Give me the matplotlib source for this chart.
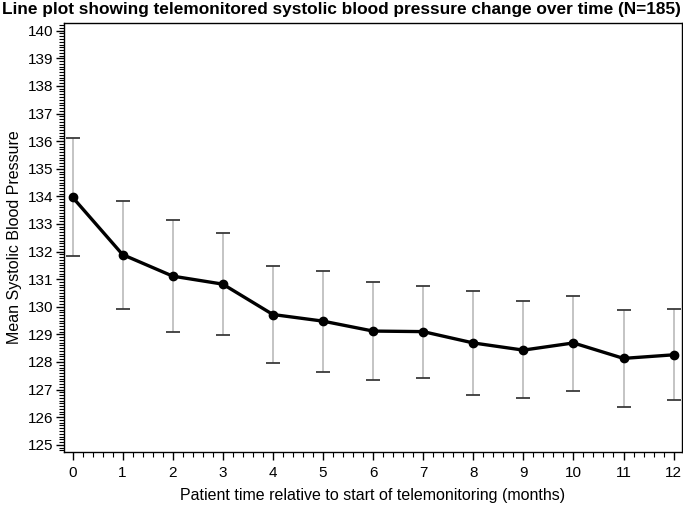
import matplotlib.pyplot as plt
from matplotlib.ticker import MultipleLocator

plt.rcParams['font.family'] = ['Liberation Sans', 'DejaVu Sans']

months = [0, 1, 2, 3, 4, 5, 6, 7, 8, 9, 10, 11, 12]
mean_sbp = [133.97, 131.89, 131.11, 130.82, 129.72, 129.48, 129.12, 129.10, 128.69, 128.43, 128.69, 128.13, 128.26]
upper = [136.10, 133.83, 133.13, 132.68, 131.47, 131.29, 130.88, 130.77, 130.57, 130.21, 130.40, 129.89, 129.92]
lower = [131.83, 129.93, 129.07, 128.97, 127.98, 127.63, 127.36, 127.41, 126.82, 126.69, 126.96, 126.36, 126.63]

err_lo = [m - l for m, l in zip(mean_sbp, lower)]
err_hi = [u - m for m, u in zip(mean_sbp, upper)]

fig = plt.figure(figsize=(6.83, 5.05), dpi=100)
ax = fig.add_axes([0.0937, 0.105, 0.905, 0.85])

eb = ax.errorbar(months, mean_sbp, yerr=[err_lo, err_hi], fmt='none',
                 ecolor='#b4b4b4', elinewidth=1.1, capsize=5, capthick=1.3)
for cap in eb[1]:
    cap.set_markeredgecolor('#3a3a3a')
ax.plot(months, mean_sbp, color='black', lw=2.4, marker='o', ms=6, zorder=3)

ax.set_xlim(-0.17, 12.17)
ax.set_ylim(124.74, 140.29)
ax.xaxis.set_major_locator(MultipleLocator(1))
ax.xaxis.set_minor_locator(MultipleLocator(0.2))
ax.yaxis.set_major_locator(MultipleLocator(1))
ax.yaxis.set_minor_locator(MultipleLocator(0.1))
ax.tick_params(which='major', direction='out', length=6, width=1, labelsize=11)
ax.tick_params(which='minor', direction='out', length=3.5, width=0.8)
ax.tick_params(axis='x', pad=4)
ax.tick_params(axis='y', pad=2)

for s in ax.spines.values():
    s.set_linewidth(1)

ax.set_xlabel('Patient time relative to start of telemonitoring (months)', fontsize=11.5)
ax.xaxis.set_label_coords(0.5, -0.084)
ax.set_ylabel('Mean Systolic Blood Pressure', fontsize=11.5)
ax.yaxis.set_label_coords(-0.068, 0.5)
fig.suptitle('Line plot showing telemonitored systolic blood pressure change over time (N=185)',
             fontsize=12.4, fontweight='bold', x=0.5, y=0.997)

fig.savefig('out.png', dpi=100)
